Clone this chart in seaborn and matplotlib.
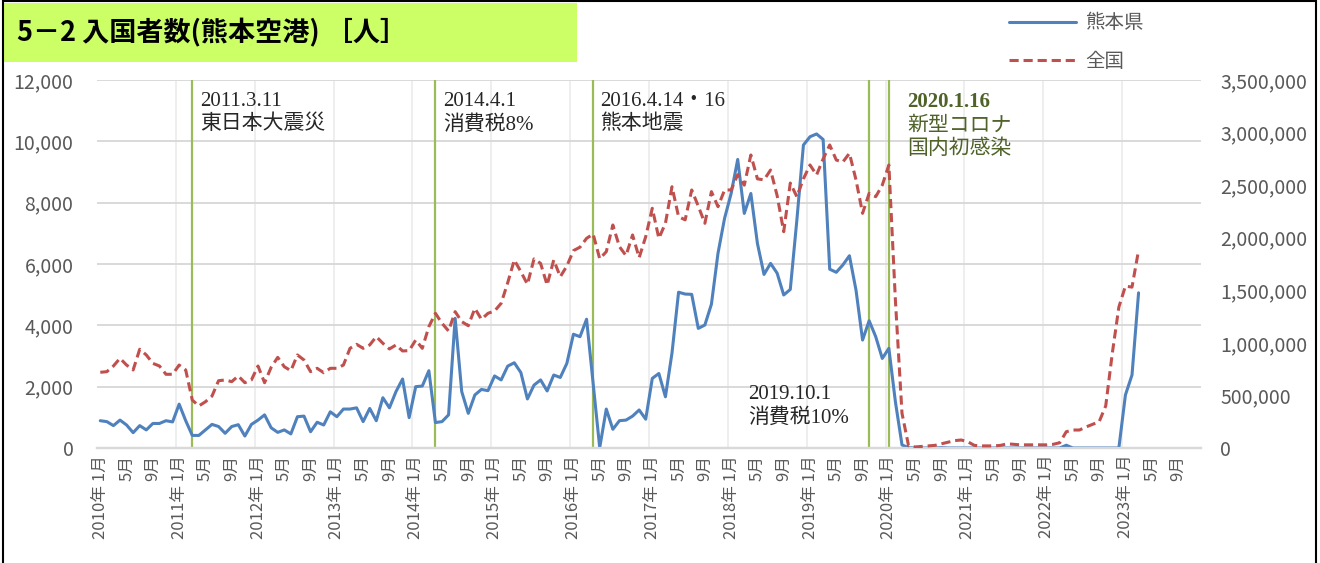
import numpy as np
import pandas as pd
import seaborn as sns
import matplotlib.pyplot as plt
from matplotlib.patches import Rectangle

# ---------------- Data (monthly, 2010年1月 - 2023年3月) ----------------
kumamoto = [
    890, 860, 730, 910, 750, 500, 730, 590, 800, 800, 890, 850,          # 2010
    1430, 890, 410, 410, 590, 770, 700, 480, 700, 760, 390, 770,         # 2011
    910, 1080, 660, 510, 590, 460, 1020, 1040, 530, 840, 750, 1180,      # 2012
    1020, 1270, 1270, 1310, 860, 1290, 890, 1640, 1310, 1840, 2250, 990,  # 2013
    2000, 2020, 2520, 830, 860, 1080, 4230, 1840, 1130, 1730, 1910, 1870,  # 2014
    2350, 2220, 2670, 2780, 2460, 1600, 2050, 2220, 1860, 2380, 2300, 2760,  # 2015
    3710, 3630, 4200, 2100, 10, 1270, 610, 890, 910, 1040, 1240, 940,    # 2016
    2270, 2430, 1670, 3100, 5080, 5020, 5010, 3900, 4010, 4690, 6350, 7490,  # 2017
    8300, 9410, 7650, 8300, 6670, 5660, 6020, 5700, 4990, 5170, 7430, 9880,  # 2018
    10150, 10240, 10060, 5830, 5730, 5970, 6270, 5150, 3520, 4150, 3630, 2920,  # 2019
    3250, 1500, 100, 10, 0, 0, 0, 0, 10, 0, 0, 0,                        # 2020
    0, 0, 0, 0, 0, 0, 0, 0, 0, 0, 0, 0,                                  # 2021
    0, 0, 0, 90, 0, 0, 0, 0, 0, 0, 0, 0,                                 # 2022
    1730, 2380, 5060,                                                    # 2023
]

# 全国 (thousand persons)
zenkoku = [
    720, 726, 780, 853, 789, 742, 939, 885, 805, 780, 701, 701,
    789, 742, 456, 400, 440, 494, 640, 647, 631, 685, 621, 647,
    780, 621, 767, 862, 773, 735, 885, 837, 726, 758, 716, 758,
    758, 789, 948, 986, 948, 980, 1059, 996, 942, 980, 923, 926,
    1027, 948, 1154, 1281, 1186, 1113, 1297, 1202, 1163, 1328, 1224, 1281,
    1303, 1376, 1572, 1788, 1677, 1557, 1798, 1756, 1550, 1788, 1629, 1731,
    1877, 1910, 1994, 2035, 1800, 1867, 2121, 1915, 1830, 2026, 1810, 2010,
    2280, 1994, 2137, 2485, 2200, 2170, 2454, 2300, 2137, 2438, 2295, 2454,
    2454, 2600, 2500, 2787, 2560, 2550, 2644, 2400, 2057, 2520, 2390, 2560,
    2692, 2597, 2750, 2882, 2739, 2720, 2803, 2550, 2232, 2422, 2390, 2500,
    2692, 1400, 330, 20, 10, 15, 20, 25, 40, 55, 70, 76,
    60, 25, 20, 20, 20, 25, 40, 35, 30, 30, 30, 30,
    30, 35, 50, 155, 171, 171, 200, 225, 250, 400, 900, 1340,
    1540, 1530, 1880,
]
zenkoku = [v * 1000 for v in zenkoku]

# events: month index from 2010年1月, label text and where it sits
event_idx = [14, 51, 75, 117, 120]
event_text = ["2011.3.11\n東日本大震災", "2014.4.1\n消費税8%", "2016.4.14・16\n熊本地震",
              "2019.10.1\n消費税10%", "2020.1.16\n新型コロナ\n国内初感染"]
event_text_x = [15.2, 52.2, 76.1, 98.6, 122.8]
event_text_y = [11600, 11600, 11600, 2050, 11600]

n_cat = 168
tick_pos = list(range(0, 165, 4))
tick_labels = []
for i in tick_pos:
    yr, mo = 2010 + i // 12, i % 12 + 1
    tick_labels.append(f"{yr}年 {mo}月" if mo == 1 else f"{mo}月")

df = pd.DataFrame({'idx': range(len(kumamoto)), '熊本県': kumamoto, '全国': zenkoku})

# ---------------- Plot ----------------
sns.set_style('white')
plt.rcParams['font.family'] = ['Noto Sans CJK JP', 'DejaVu Sans']

W, H = 1320, 563
fig = plt.figure(figsize=(W / 100, H / 100), dpi=100)
ax = fig.add_axes([97 / W, 1 - 448 / H, (1201 - 97) / W, (448 - 80) / H])

gray = '#595959'
for i in event_idx:
    ax.axvline(i, color='#9BBB59', lw=1.6, zorder=1.5)

sns.lineplot(data=df, x='idx', y='熊本県', ax=ax, color='#4F81BD', lw=2.2, legend=False, zorder=3)
ax2 = ax.twinx()
sns.lineplot(data=df, x='idx', y='全国', ax=ax2, color='#C0504D', lw=2.2,
             linestyle=(0, (3, 1.6)), legend=False, zorder=3)

ax.set_xlim(-0.5, n_cat - 0.5)
ax.set_ylim(0, 12000)
ax2.set_ylim(0, 3500000)
ax.set_yticks(np.arange(0, 12001, 2000))
ax2.set_yticks(np.arange(0, 3500001, 500000))
ax.yaxis.set_major_formatter(plt.FuncFormatter(lambda v, p: f"{v:,.0f}"))
ax2.yaxis.set_major_formatter(plt.FuncFormatter(lambda v, p: f"{v:,.0f}"))
ax.set_xticks(tick_pos)
ax.set_xticklabels(tick_labels, rotation=90, fontsize=12, color=gray)
ax.set_xticks(np.arange(11.5, n_cat - 1, 12), minor=True)
ax.tick_params(axis='x', which='both', length=0, pad=5)
ax.tick_params(axis='y', length=0, labelsize=14, labelcolor=gray, pad=17)
ax2.tick_params(axis='y', length=0, labelsize=14, labelcolor=gray, pad=14)
ax.set_xlabel('')
ax.set_ylabel('')
ax2.set_ylabel('')

ax.grid(axis='y', which='major', color='#D9D9D9', lw=1.4)
ax.grid(axis='x', which='minor', color='#EEEEEE', lw=1.4)
ax.grid(axis='x', which='major', visible=False)
ax.set_axisbelow(True)
for a in (ax, ax2):
    for s in ['top', 'left', 'right']:
        a.spines[s].set_visible(False)
    a.spines['bottom'].set_color('#D9D9D9')
    a.spines['bottom'].set_linewidth(1.6)

serif = ['Liberation Serif', 'Noto Sans CJK JP']
for k, (tx, ty, t) in enumerate(zip(event_text_x, event_text_y, event_text)):
    if k == 4:
        lines = t.split('\n')
        ax.text(tx, ty, lines[0], va='top', ha='left', fontsize=15, family=serif,
                fontweight='bold', color='#4F6228')
        ax.text(tx, ty - 800, '\n'.join(lines[1:]), va='top', ha='left', fontsize=15,
                family=serif, color='#4F6228', linespacing=1.25)
    else:
        ax.text(tx, ty, t, va='top', ha='left', fontsize=15, family=serif,
                color='#262626', linespacing=1.25)

# legend
h1 = plt.Line2D([], [], color='#4F81BD', lw=2.2)
h2 = plt.Line2D([], [], color='#C0504D', lw=2.2, linestyle=(0, (3, 1.6)))
fig.legend([h1, h2], ['熊本県', '全国'], loc='upper left',
           bbox_to_anchor=(992 / W, 1 + 5 / H), frameon=False, fontsize=14,
           labelcolor=gray, handlelength=3.4, labelspacing=0.9, handletextpad=0.5)

# title box and frame
fig.patches.append(Rectangle((3 / W, 1 - 62 / H), 574 / W, 59 / H, transform=fig.transFigure,
                             facecolor='#CCFF66', edgecolor='none', zorder=0))
fig.text(17 / W, 1 - 33 / H, '5－2 入国者数(熊本空港) ［人］', va='center', ha='left',
         fontsize=19.5, fontweight='bold', color='black')
fig.patches.append(Rectangle((3 / W, -0.01), 1313 / W, 1.008, transform=fig.transFigure,
                             fill=False, edgecolor='black', lw=1.5, zorder=5))

fig.savefig('out.png', dpi=100)
